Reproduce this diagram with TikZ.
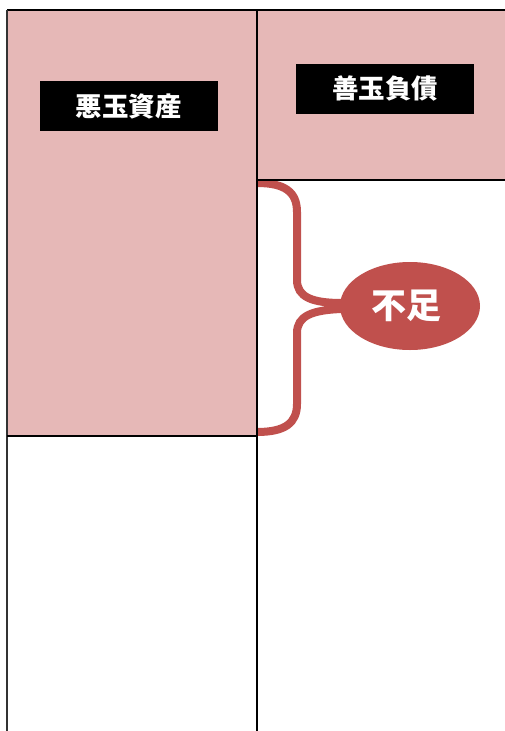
\documentclass[tikz,border=0pt]{standalone}
\usepackage{fontspec}
\newfontfamily\jpfont{Noto Sans CJK JP}
\usepackage{tikz}
\usetikzlibrary{positioning, shapes.geometric, calc, backgrounds}

\definecolor{sheetpink}{HTML}{E6B8B7}
\definecolor{shortred}{HTML}{C0504D}

\begin{document}
\begin{tikzpicture}[x=1pt, y=-1pt,
    tag/.style={fill=black, text=white, font=\jpfont\bfseries\fontsize{26.5}{26.5}\selectfont,
        minimum width=178pt, minimum height=50pt, inner sep=0pt},
    grid/.style={line width=2pt, black},
    brace/.style={line width=8pt, shortred, line cap=butt}]
    \useasboundingbox (0,0) rectangle (505,731);

    % Pink areas of the balance sheet
    \fill[sheetpink] (7,10) rectangle (257,436);
    \fill[sheetpink] (257,10) rectangle (505,180);

    % Sheet lines
    \draw[grid] (7,10) -- (505,10);
    \draw[line width=1.5pt, black!80] (7,10) -- (7,731);
    \draw[grid] (257,10) -- (257,731);
    \draw[grid] (7,436) -- (257,436);
    \draw[grid] (257,180) -- (505,180);

    % Labels
    \node[tag] (bad) at (128.5,106) {悪玉資産};
    \node[tag] (good) at (385,88.5) {善玉負債};

    % Shortfall brace and bubble
    \coordinate (bt) at (257,183);
    \coordinate (bb) at (257,432);
    \node[ellipse, fill=shortred, minimum width=140pt, minimum height=88pt, inner sep=0pt,
        text=white, font=\jpfont\bfseries\fontsize{35}{35}\selectfont] (short) at (410,306) {\hspace*{-8pt}不足};
    \begin{scope}[on background layer]
    \draw[brace] (bt) .. controls (285,183) and (297,192) .. (297,212) -- (297,280)
        .. controls (297,297) and (312,303) .. ($(short.west)+(2,-3)$)
        -- ($(short.west)+(2,3)$)
        .. controls (312,310) and (297,316) .. (297,333) -- (297,404)
        .. controls (297,423) and (285,432) .. (bb);
    \end{scope}
\end{tikzpicture}
\end{document}
